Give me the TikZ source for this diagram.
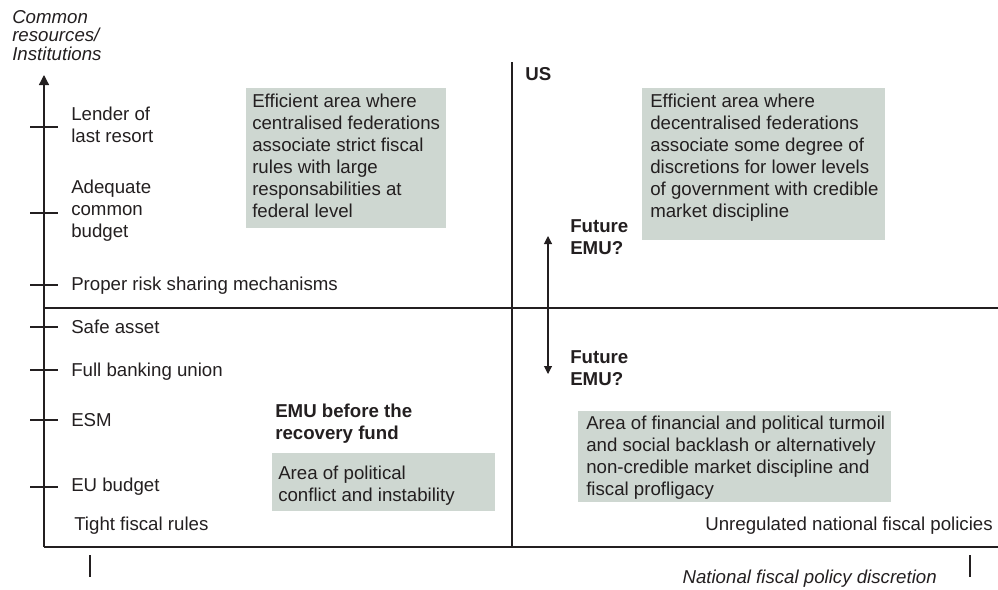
\documentclass[tikz,border=0pt]{standalone}
\usepackage{fontspec}
\setmainfont{Liberation Sans}
\usetikzlibrary{arrows.meta}

\definecolor{panelgrey}{RGB}{206,215,209}
\definecolor{inkgrey}{RGB}{35,31,32}

\tikzset{
  axisline/.style={line width=1pt, color=inkgrey},
  tickline/.style={line width=0.8pt, color=inkgrey},
  panel/.style={fill=panelgrey},
  lbl/.style={inner sep=0pt, text=inkgrey, font=\fontsize{14}{16.5}\selectfont, align=left},
  boldlbl/.style={lbl, font=\fontsize{14}{16.5}\selectfont\bfseries},
  axislbl/.style={lbl, font=\fontsize{14}{14}\selectfont\itshape}
}

\begin{document}
\begin{tikzpicture}[x=0.75pt,y=0.75pt,yscale=-1,xscale=1]
\path[use as bounding box] (0,0) rectangle (998,589);

%Axes
\coordinate (origin) at (44,547);
\coordinate (ytip) at (44,75);
\coordinate (xend) at (998,547);
\draw [axisline, -{Triangle[width=7.5pt,length=7.5pt]}] (origin) -- (ytip) ;
\draw [axisline] (origin) -- (xend) ;
%Quadrant lines
\draw [axisline] (512,62) -- (512,547) ;
\draw [axisline] (44,308) -- (998,308) ;
%Ticks
\foreach \ty in {127,213,285,327,370,420,487}
  \draw [tickline] (30,\ty) -- (58,\ty) ;
\draw [tickline] (90,555) -- (90,577) ;
\draw [tickline] (970,555) -- (970,577) ;

%Shaded areas
\fill [panel] (246,88) rectangle (446,228) ;
\fill [panel] (642,88) rectangle (885,240) ;
\fill [panel] (272,453) rectangle (495,511) ;
\fill [panel] (578,411) rectangle (891,502) ;

%Double arrow
\coordinate (emutop) at (548,236);
\coordinate (emubot) at (548,374);
\draw [tickline, {Triangle[width=6pt,length=6pt]}-{Triangle[width=6pt,length=6pt]}] (emubot) -- (emutop) ;

% Text Node
\node (axisy) [axislbl, anchor=north west] at (12,10) {Common\\resources/\\Institutions};
% Text Node
\node (lender) [lbl, anchor=north west] at (71,107) {Lender of\\last resort};
% Text Node
\node (budget) [lbl, anchor=north west] at (71,180) {Adequate\\common\\budget};
% Text Node
\node (risk) [lbl, anchor=base west] at (71,290) {Proper risk sharing mechanisms};
% Text Node
\node (safe) [lbl, anchor=base west] at (71,333) {Safe asset};
% Text Node
\node (banking) [lbl, anchor=base west] at (71,376) {Full banking union};
% Text Node
\node (esm) [lbl, anchor=base west] at (71,426) {ESM};
% Text Node
\node (eubudget) [lbl, anchor=base west] at (71,491) {EU budget};
% Text Node
\node (tight) [lbl, anchor=base west] at (74,530) {Tight fiscal rules};
% Text Node
\node (unreg) [lbl, anchor=base east] at (993,530) {Unregulated national fiscal policies};
% Text Node
\node (axisx) [axislbl, anchor=base east] at (937,583) {National fiscal policy discretion};

% Text Node
\node (central) [lbl, anchor=north west] at (252,94) {Efficient area where\\centralised federations\\associate strict fiscal\\rules with large\\responsabilities at\\federal level};
% Text Node
\node (decentral) [lbl, anchor=north west] at (650,94) {Efficient area where\\decentralised federations\\associate some degree of\\discretions for lower levels\\of government with credible\\market discipline};
% Text Node
\node (conflict) [lbl, anchor=north west] at (278,466) {Area of political\\conflict and instability};
% Text Node
\node (turmoil) [lbl, anchor=north west] at (586,416) {Area of financial and political turmoil\\and social backlash or alternatively\\non-credible market discipline and\\fiscal profligacy};

% Text Node
\node (us) [boldlbl, anchor=base west] at (525,80) {US};
% Text Node
\node (futureup) [boldlbl, anchor=north west] at (570,219) {Future\\EMU?};
% Text Node
\node (futuredown) [boldlbl, anchor=north west] at (570,350) {Future\\EMU?};
% Text Node
\node (before) [boldlbl, anchor=north west] at (275,404) {EMU before the\\recovery fund};

\end{tikzpicture}
\end{document}
